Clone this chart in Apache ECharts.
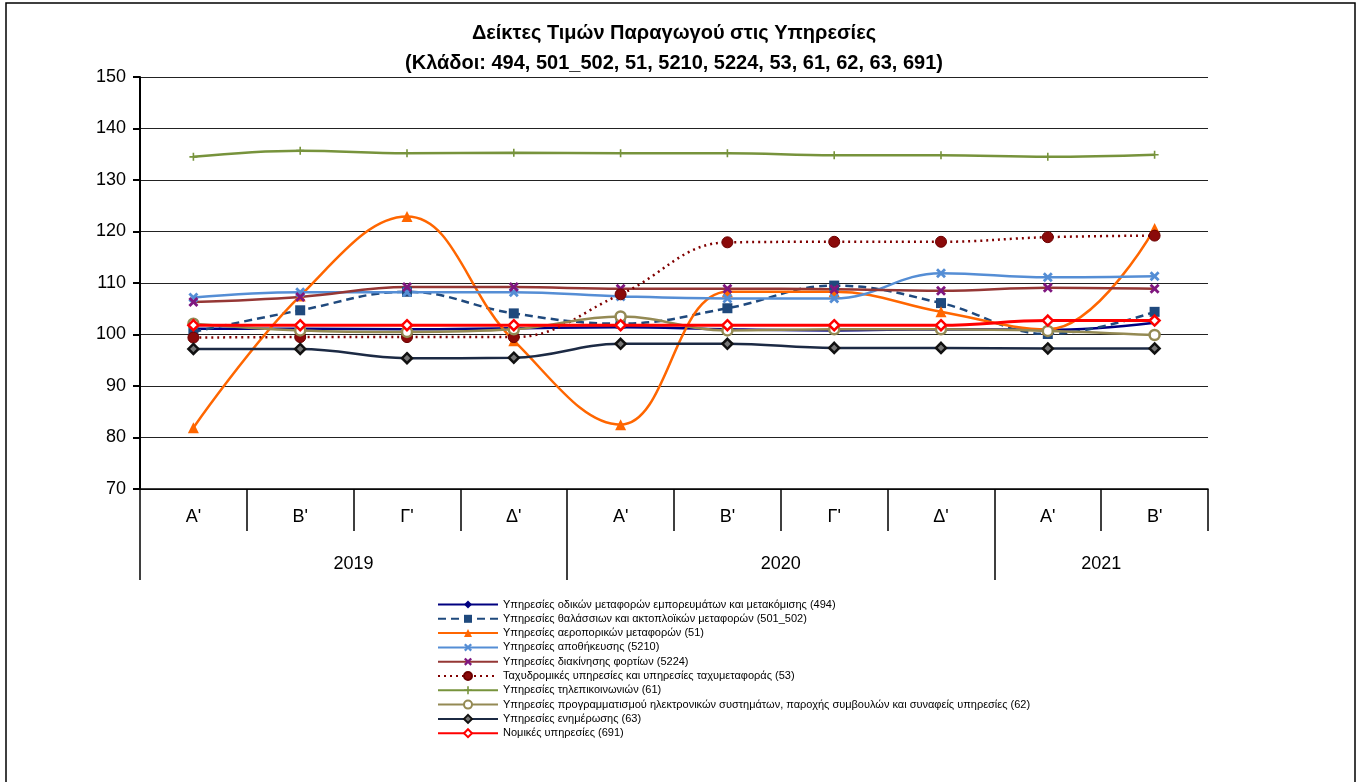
<!DOCTYPE html>
<html>
<head>
<meta charset="utf-8">
<script src="https://cdn.jsdelivr.net/npm/echarts@6/dist/echarts.min.js"></script>
<style>
html,body{margin:0;padding:0;background:#fff;}
#chart{width:1362px;height:782px;}
</style>
</head>
<body>
<div id="chart"></div>
<script>
// ---- data ----
const quarters = ["Α'", "Β'", "Γ'", "Δ'", "Α'", "Β'", "Γ'", "Δ'", "Α'", "Β'"];
const years = ["2019", "2020", "2021"];
const yearSpans = [4, 4, 2];
const yTicks = [70, 80, 90, 100, 110, 120, 130, 140, 150];

const titleLine1 = "Δείκτες Τιμών Παραγωγού στις Υπηρεσίες";
const titleLine2 = "(Κλάδοι: 494, 501_502, 51, 5210, 5224, 53, 61, 62, 63, 691)";

const names = [
  "Υπηρεσίες οδικών μεταφορών εμπορευμάτων και μετακόμισης (494)",
  "Υπηρεσίες θαλάσσιων και ακτοπλοϊκών μεταφορών (501_502)",
  "Υπηρεσίες αεροπορικών μεταφορών (51)",
  "Υπηρεσίες αποθήκευσης (5210)",
  "Υπηρεσίες διακίνησης φορτίων (5224)",
  "Ταχυδρομικές υπηρεσίες και υπηρεσίες ταχυμεταφοράς (53)",
  "Υπηρεσίες τηλεπικοινωνιών (61)",
  "Υπηρεσίες προγραμματισμού ηλεκτρονικών συστημάτων, παροχής συμβουλών και συναφείς υπηρεσίες (62)",
  "Υπηρεσίες ενημέρωσης (63)",
  "Νομικές υπηρεσίες (691)"
];

const s494    = [101.1, 101.1, 101.0, 101.2, 101.4, 101.0, 100.8, 101.0, 100.9, 102.3];
const s501    = [100.5, 104.7, 108.3, 104.1, 102.1, 105.1, 109.5, 106.1, 100.1, 104.4];
const s51     = [81.9, 107.5, 122.9, 98.8, 82.5, 108.3, 108.3, 104.4, 101.0, 120.6];
const s5210   = [107.2, 108.2, 108.2, 108.2, 107.4, 107.0, 107.0, 111.9, 111.1, 111.3];
const s5224   = [106.3, 107.3, 109.2, 109.2, 108.9, 108.9, 108.8, 108.5, 109.1, 108.9];
const s53     = [99.4, 99.5, 99.5, 99.5, 107.8, 117.9, 118.0, 118.0, 118.9, 119.2];
const s61     = [134.5, 135.7, 135.2, 135.3, 135.2, 135.2, 134.8, 134.8, 134.5, 134.9];
const s62     = [102.1, 100.8, 100.5, 101.0, 103.5, 100.8, 101.0, 101.0, 100.7, 99.9];
const s63     = [97.2, 97.2, 95.4, 95.5, 98.2, 98.2, 97.4, 97.4, 97.3, 97.3];
const s691    = [101.8, 101.8, 101.8, 101.8, 101.8, 101.8, 101.8, 101.8, 102.7, 102.7];

// ---- derived group positions ----
const groupEdges = [0];
yearSpans.forEach(s => groupEdges.push(groupEdges[groupEdges.length - 1] + s));
const groupCenters = yearSpans.map((s, i) => groupEdges[i] + s / 2);
const yearLabelMap = {};
groupCenters.forEach((c, i) => { yearLabelMap[c] = years[i]; });

const X_PATH = 'path://M2,0L5,3L8,0L10,2L7,5L10,8L8,10L5,7L2,10L0,8L3,5L0,2Z';
const PLUS_PATH = 'path://M4,0H6V4H10V6H6V10H4V6H0V4H4Z';

const FONT = "'Liberation Sans', Arial, sans-serif";

function mk(name, data, color, opts) {
  return Object.assign({
    name: name,
    type: 'line',
    data: data,
    smooth: 0.4,
    lineStyle: { color: color, width: 2.5, type: 'solid' },
    itemStyle: { color: color },
    symbol: 'circle',
    symbolSize: 8,
    showSymbol: true,
    emphasis: { disabled: true },
    animation: false
  }, opts);
}

const series = [
  mk(names[0], s494, '#000080', { symbol: 'diamond', symbolSize: 8 }),
  mk(names[1], s501, '#1F497D', { symbol: 'rect', symbolSize: 10, lineStyle: { color: '#1F497D', width: 2.5, type: [8, 5] } }),
  mk(names[2], s51, '#FF6600', { symbol: 'triangle', symbolSize: 11 }),
  mk(names[3], s5210, '#558ED5', { symbol: X_PATH, symbolSize: 10 }),
  mk(names[4], s5224, '#953735', { symbol: X_PATH, symbolSize: 10, itemStyle: { color: '#7F177F' } }),
  mk(names[5], s53, '#800000', { symbol: 'circle', symbolSize: 11, lineStyle: { color: '#800000', width: 2.5, type: [2, 4] }, itemStyle: { color: '#8B0A0A', borderColor: '#6B0000', borderWidth: 1 } }),
  mk(names[6], s61, '#77933C', { symbol: PLUS_PATH, symbolSize: 8 }),
  mk(names[7], s62, '#948A54', { symbol: 'circle', symbolSize: 10, itemStyle: { color: '#fff', borderColor: '#948A54', borderWidth: 2.5 } }),
  mk(names[8], s63, '#1C2A44', { symbol: 'diamond', symbolSize: 10, itemStyle: { color: '#777', borderColor: '#111', borderWidth: 2.5 } }),
  mk(names[9], s691, '#FF0000', { symbol: 'diamond', symbolSize: 10, lineStyle: { color: '#FF0000', width: 3 }, itemStyle: { color: '#fff', borderColor: '#FF0000', borderWidth: 2.5 } })
];

const chart = echarts.init(document.getElementById('chart'), null, { renderer: 'canvas' });
chart.setOption({
  animation: false,
  backgroundColor: '#fff',
  textStyle: { fontFamily: FONT },
  title: {
    text: titleLine1 + '\n' + titleLine2,
    left: 669,
    textAlign: 'center',
    top: 13,
    padding: 5,
    textStyle: { fontFamily: FONT, fontSize: 20, fontWeight: 'bold', color: '#000', lineHeight: 30 }
  },
  graphic: [{
    type: 'rect',
    shape: { x: 6, y: 3, width: 1349, height: 820 },
    style: { fill: 'none', stroke: '#000', lineWidth: 1.5 },
    silent: true
  }],
  grid: { left: 140, right: 154, top: 77, bottom: 293, containLabel: false },
  legend: {
    orient: 'vertical',
    left: 437,
    top: 599,
    padding: 0,
    itemWidth: 60,
    itemHeight: 10,
    itemGap: 3.3,
    selectedMode: false,
    data: names,
    textStyle: { fontFamily: FONT, fontSize: 11, color: '#000', lineHeight: 10 }
  },
  xAxis: [{
    type: 'category',
    data: quarters,
    boundaryGap: true,
    axisLine: { show: true, lineStyle: { color: '#000', width: 1.5 } },
    axisTick: { show: true, interval: 0, length: 42, lineStyle: { color: '#000', width: 1.5 } },
    axisLabel: { interval: 0, margin: 19, fontSize: 18, color: '#000', fontFamily: FONT },
    splitLine: { show: false }
  }, {
    type: 'value',
    position: 'bottom',
    min: 0,
    max: groupEdges[groupEdges.length - 1],
    axisLine: { show: false },
    splitLine: { show: false },
    axisTick: { show: true, customValues: groupEdges.slice(0, -1), length: 91, lineStyle: { color: '#000', width: 1.5 } },
    axisLabel: {
      show: true,
      customValues: groupCenters,
      margin: 66,
      fontSize: 18,
      color: '#000',
      fontFamily: FONT,
      formatter: v => yearLabelMap[v] || ''
    }
  }],
  yAxis: {
    type: 'value',
    min: yTicks[0],
    max: yTicks[yTicks.length - 1],
    interval: 10,
    axisLine: { show: true, lineStyle: { color: '#000', width: 2 } },
    axisTick: { show: true, inside: false, length: 7, lineStyle: { color: '#000', width: 2 } },
    axisLabel: { fontSize: 18, color: '#000', margin: 14, fontFamily: FONT },
    splitLine: { show: true, lineStyle: { color: '#222', width: 1 } }
  },
  series: series
});
</script>
</body>
</html>
